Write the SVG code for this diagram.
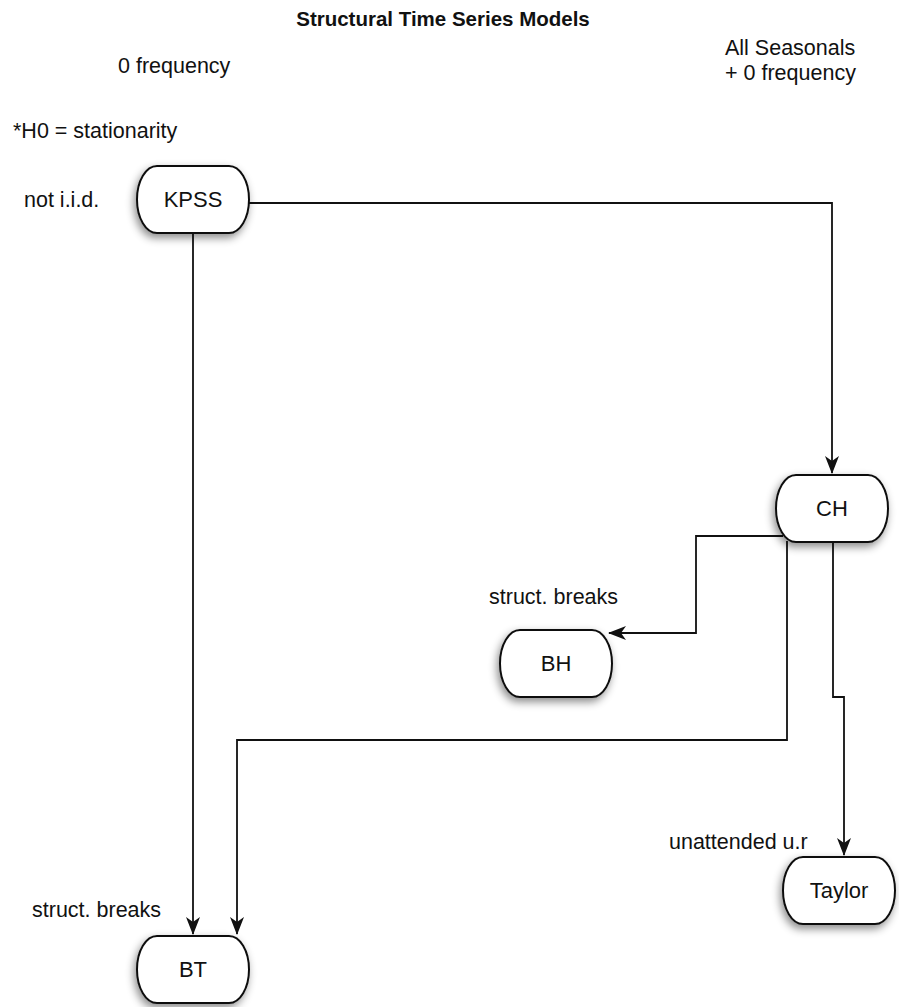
<svg xmlns="http://www.w3.org/2000/svg" width="899" height="1007" viewBox="0 0 899 1007">
<style>
text{font-family:"Liberation Sans",Arial,sans-serif;font-size:21.5px;fill:#111}
.title{font-weight:bold;font-size:20.5px;text-anchor:middle}
.nl{text-anchor:middle;font-size:22px}
.node path{fill:#fff;stroke:#111;stroke-width:2;filter:url(#sh)}
.conn path{fill:none;stroke:#111;stroke-width:1.8;marker-end:url(#arr)}
</style>
<defs>
<filter id="sh" x="-30%" y="-30%" width="160%" height="170%">
<feDropShadow dx="-2" dy="4" stdDeviation="4" flood-color="#000" flood-opacity="0.45"/>
</filter>
<marker id="arr" markerUnits="userSpaceOnUse" markerWidth="18" markerHeight="14" viewBox="0 0 18 14" refX="17" refY="7" orient="auto">
<path d="M0,0 L18,7 L0,14 L5,7 Z" fill="#111"/>
</marker>
</defs>
<rect width="899" height="1007" fill="#fff"/>
<text class="title" x="443" y="26">Structural Time Series Models</text>
<text x="118" y="73">0 frequency</text>
<text x="725" y="55">All Seasonals</text>
<text x="725" y="80">+ 0 frequency</text>
<text x="13" y="138">*H0 = stationarity</text>
<text x="24" y="207">not i.i.d.</text>
<text x="489" y="604">struct. breaks</text>
<text x="669" y="849">unattended u.r</text>
<text x="32" y="917">struct. breaks</text>
<g id="connectors" class="conn">
<path d="M249,203 H832 V473"/>
<path d="M193,233 V934"/>
<path d="M783,536 H696 V633 H609"/>
<path d="M787,541 V740 H237 V934"/>
<path d="M833,541 V697 H844 V855"/>
</g>
<g id="KPSS" class="node"><path d="M157,166 H229 A20,33.5 0 0 1 229,233 H157 A20,33.5 0 0 1 157,166 Z"/><text class="nl" x="193" y="207">KPSS</text></g>
<g id="CH" class="node"><path d="M796,475 H868 A20,33.5 0 0 1 868,542 H796 A20,33.5 0 0 1 796,475 Z"/><text class="nl" x="832" y="516">CH</text></g>
<g id="BH" class="node"><path d="M520,630 H592 A20,33.5 0 0 1 592,697 H520 A20,33.5 0 0 1 520,630 Z"/><text class="nl" x="556" y="671">BH</text></g>
<g id="Taylor" class="node"><path d="M803,857 H875 A20,33.5 0 0 1 875,924 H803 A20,33.5 0 0 1 803,857 Z"/><text class="nl" x="839" y="898">Taylor</text></g>
<g id="BT" class="node"><path d="M157,936 H229 A20,33.5 0 0 1 229,1003 H157 A20,33.5 0 0 1 157,936 Z"/><text class="nl" x="193" y="977">BT</text></g>
</svg>
